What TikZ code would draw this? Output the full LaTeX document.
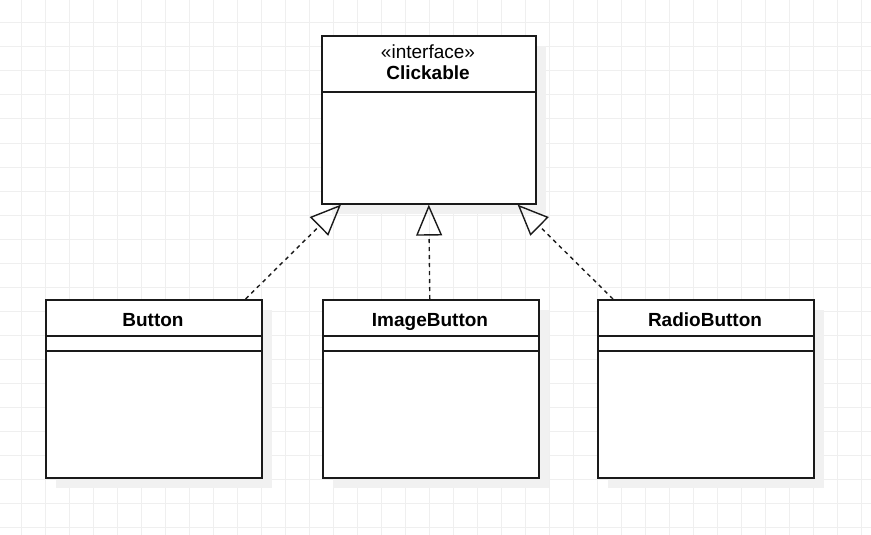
\documentclass[tikz,border=0pt]{standalone}
\usepackage{fontspec}
\setmainfont{Liberation Sans}
\usetikzlibrary{arrows.meta,shadows}
\definecolor{gridgray}{HTML}{EFEFEF}
\definecolor{shadowgray}{HTML}{F1F1F1}
\definecolor{umlline}{HTML}{1A1A1A}
\begin{document}
\begin{tikzpicture}[
    x=1pt, y=-1pt,
    gridline/.style={draw=gridgray, line width=1pt},
    umlbox/.style={draw=umlline, fill=white, line width=1.6pt, anchor=north west,
                   inner sep=0pt, minimum width=216pt, minimum height=178pt,
                   drop shadow={shadow xshift=10pt, shadow yshift=-10pt,
                                fill=shadowgray, opacity=1}},
    sep/.style={draw=umlline, line width=1.6pt},
    title/.style={font=\fontsize{19}{22}\selectfont\bfseries, anchor=base},
    stereo/.style={font=\fontsize{19}{22}\selectfont, anchor=base},
    realize/.style={draw=umlline, line width=1.4pt, dash pattern=on 4pt off 4pt,
                    -{Triangle[open, length=31pt, width=26pt]}}
]
  \useasboundingbox (0,0) rectangle (871,535);

  % background grid
  \foreach \gx in {21,45,...,861} \draw[gridline] (\gx,0) -- (\gx,535);
  \foreach \gy in {23,47,...,527} \draw[gridline] (0,\gy) -- (871,\gy);

  % interface
  \node[umlbox, minimum width=214pt, minimum height=168pt] (clickable) at (321,35) {};
  \draw[sep] (321,92) -- (535,92);
  \node[stereo] (clickableStereo) at (428,59) {«interface»};
  \node[title]  (clickableName)   at (428,79.5) {Clickable};

  % Button
  \node[umlbox] (button) at (45,299) {};
  \draw[sep] (45,336) -- (261,336);
  \draw[sep] (45,351) -- (261,351);
  \node[title] (buttonName) at (153,326) {Button};

  % ImageButton
  \node[umlbox] (imageButton) at (322,299) {};
  \draw[sep] (322,336) -- (538,336);
  \draw[sep] (322,351) -- (538,351);
  \node[title] (imageButtonName) at (430,326) {ImageButton};

  % RadioButton
  \node[umlbox] (radioButton) at (597,299) {};
  \draw[sep] (597,336) -- (813,336);
  \draw[sep] (597,351) -- (813,351);
  \node[title] (radioButtonName) at (705,326) {RadioButton};

  % realizations
  \draw[realize] ([xshift=-17pt]button.north east) -- ([xshift=20pt]clickable.south west);
  \draw[realize] ([xshift=-1pt]imageButton.north) -- (clickable.south);
  \draw[realize] ([xshift=16pt]radioButton.north west) -- ([xshift=-19pt]clickable.south east);
\end{tikzpicture}
\end{document}
